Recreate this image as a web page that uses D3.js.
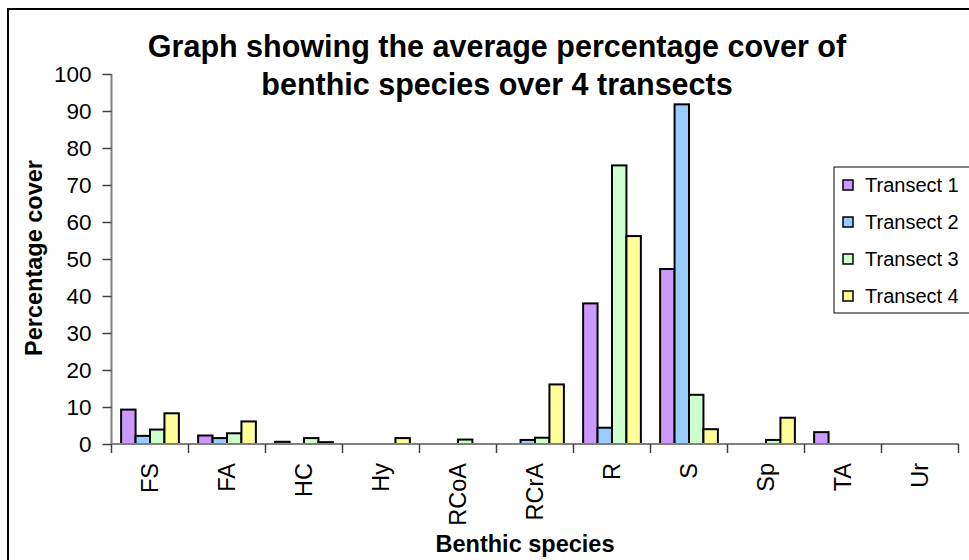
<!DOCTYPE html>
<html>
<head>
<meta charset="utf-8">
<script src="https://cdn.jsdelivr.net/npm/d3@7"></script>
<style>
  html, body { margin: 0; padding: 0; background: #fff; }
  svg { display: block; }
  text { font-family: "Liberation Sans", Arial, sans-serif; }
</style>
</head>
<body>
<svg id="chart" width="969" height="560"></svg>
<script>
const categories = ["FS", "FA", "HC", "Hy", "RCoA", "RCrA", "R", "S", "Sp", "TA", "Ur"];
const seriesNames = ["Transect 1", "Transect 2", "Transect 3", "Transect 4"];
const transect1 = [9.3, 2.3, 0.6, 0, 0, 0, 38.0, 47.3, 0, 3.2, 0];
const transect2 = [2.2, 1.6, 0, 0, 0, 1.1, 4.4, 91.8, 0, 0, 0];
const transect3 = [3.9, 2.9, 1.6, 0, 1.2, 1.7, 75.3, 13.3, 1.1, 0, 0];
const transect4 = [8.3, 6.1, 0.5, 1.6, 0, 16.1, 56.2, 4.0, 7.1, 0, 0];
const seriesColors = ["#CC99FF", "#99CCFF", "#CCFFCC", "#FFFF99"];
const yTicks = [0, 10, 20, 30, 40, 50, 60, 70, 80, 90, 100];
const titleLines = ["Graph showing the average percentage cover of", "benthic species over 4 transects"];
const xTitle = "Benthic species";
const yTitle = "Percentage cover";

const seriesValues = [transect1, transect2, transect3, transect4];

const svg = d3.select("#chart");

// outer chart border
svg.append("rect")
  .attr("x", 8).attr("y", 9).attr("width", 980).attr("height", 570)
  .attr("fill", "#fff").attr("stroke", "#000").attr("stroke-width", 2);

const plot = { left: 111.5, right: 958.5, top: 74, bottom: 444 };

const x = d3.scaleBand().domain(categories).range([plot.left, plot.right]).paddingInner(0).paddingOuter(0);
const bw = x.bandwidth();
const xs = d3.scaleBand().domain(seriesNames).range([bw * 0.125, bw * 0.875]).padding(0);
const y = d3.scaleLinear().domain([0, 100]).range([plot.bottom, plot.top]);

// bars
seriesNames.forEach((s, si) => {
  svg.append("g").selectAll("rect")
    .data(categories.map((c, i) => ({ c, v: seriesValues[si][i] })).filter(d => d.v > 0))
    .join("rect")
    .attr("x", d => x(d.c) + xs(s))
    .attr("y", d => y(d.v))
    .attr("width", xs.bandwidth())
    .attr("height", d => y(0) - y(d.v))
    .attr("fill", seriesColors[si])
    .attr("stroke", "#000")
    .attr("stroke-width", 2);
});

// y axis
const yAxis = d3.axisLeft(y).tickValues(yTicks).tickSize(9).tickPadding(11);
const gy = svg.append("g").attr("transform", `translate(${plot.left},0)`).call(yAxis);
gy.select(".domain").attr("stroke", "#808080").attr("stroke-width", 2).attr("d", `M0,${plot.top}V${plot.bottom}`);
gy.selectAll(".tick line").attr("stroke", "#404040").attr("stroke-width", 1.5);
gy.selectAll(".tick text").attr("font-size", 22.5).attr("fill", "#000")
  .attr("font-family", "Liberation Sans, Arial, sans-serif");

// x axis
const gx = svg.append("g");
gx.append("line")
  .attr("x1", plot.left).attr("x2", plot.right)
  .attr("y1", y(0)).attr("y2", y(0))
  .attr("stroke", "#808080").attr("stroke-width", 2);
const boundaries = categories.map(c => x(c)).concat([x(categories[categories.length - 1]) + bw]);
gx.selectAll("line.tk").data(boundaries).join("line")
  .attr("class", "tk")
  .attr("x1", d => d).attr("x2", d => d)
  .attr("y1", y(0)).attr("y2", y(0) + 9)
  .attr("stroke", "#404040").attr("stroke-width", 1.5);
gx.selectAll("text").data(categories).join("text")
  .attr("transform", d => `translate(${x(d) + bw / 2 + 8},${y(0) + 19}) rotate(-90)`)
  .attr("text-anchor", "end")
  .attr("font-size", 23.5)
  .attr("fill", "#000")
  .text(d => d);

// titles
svg.append("g").selectAll("text").data(titleLines).join("text")
  .attr("x", 497).attr("y", (d, i) => 57 + i * 38)
  .attr("text-anchor", "middle")
  .attr("font-size", 30.5).attr("font-weight", "bold")
  .text(d => d);

svg.append("text")
  .attr("x", 525).attr("y", 552)
  .attr("text-anchor", "middle")
  .attr("font-size", 23.5).attr("font-weight", "bold")
  .text(xTitle);

svg.append("text")
  .attr("transform", `translate(42,258) rotate(-90)`)
  .attr("text-anchor", "middle")
  .attr("font-size", 23.5).attr("font-weight", "bold")
  .text(yTitle);

// legend
const leg = svg.append("g");
leg.append("rect")
  .attr("x", 834).attr("y", 167).attr("width", 160).attr("height", 146)
  .attr("fill", "#fff").attr("stroke", "#000").attr("stroke-width", 1);
seriesNames.forEach((s, i) => {
  const cy = 185 + i * 37;
  leg.append("rect")
    .attr("x", 843).attr("y", cy - 5).attr("width", 10).attr("height", 10)
    .attr("fill", seriesColors[i]).attr("stroke", "#000").attr("stroke-width", 1.5);
  leg.append("text")
    .attr("x", 865).attr("y", cy + 7)
    .attr("font-size", 20).attr("fill", "#000")
    .text(s);
});
</script>
</body>
</html>
